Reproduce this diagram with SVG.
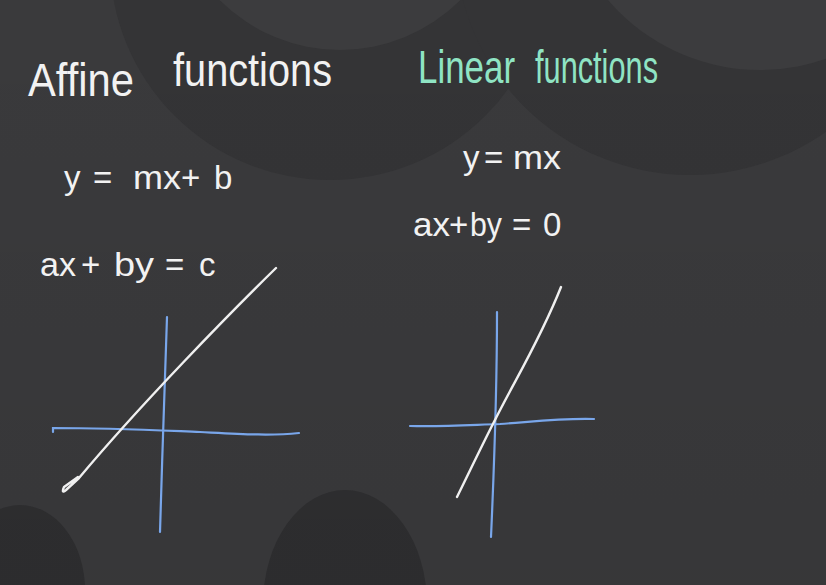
<svg xmlns="http://www.w3.org/2000/svg" width="826" height="585" viewBox="0 0 826 585">
  <defs>
    <style>
      .bg { fill: #3a3a3c; }
      .dark { fill: #343436; }
      .darker { fill: #2f2f31; }
      .light { fill: #3c3c3e; }
      .hand { font-family: "Liberation Sans", "DejaVu Sans", sans-serif; fill: #f2f2f2; }
      .green { fill: #8fe4c4; }
      .chalk { fill: none; stroke: #f0f0f0; stroke-width: 2.4; stroke-linecap: round; stroke-linejoin: round; }
      .axis { fill: none; stroke: #79a6ea; stroke-width: 2.2; stroke-linecap: round; }
    </style>
    <linearGradient id="fade" x1="0" y1="0" x2="0" y2="1">
      <stop offset="0" stop-color="#000" stop-opacity="0"/>
      <stop offset="1" stop-color="#000" stop-opacity="0.06"/>
    </linearGradient>
  </defs>

  <!-- board background -->
  <rect class="bg" x="0" y="0" width="826" height="585"/>
  <circle class="dark" cx="330" cy="-40" r="220"/>
  <circle class="dark" cx="690" cy="-60" r="235"/>
  <circle class="light" cx="340" cy="-120" r="170"/>
  <circle class="light" cx="760" cy="-130" r="200"/>
  <ellipse class="darker" cx="20" cy="590" rx="65" ry="85"/>
  <ellipse class="darker" cx="345" cy="605" rx="82" ry="115"/>
  <rect x="0" y="0" width="826" height="585" fill="url(#fade)"/>

  <!-- titles -->
  <g id="title-affine">
    <text class="hand" font-size="46"><tspan x="28" y="96" textLength="106" lengthAdjust="spacingAndGlyphs">Affine</tspan><tspan x="173" y="86" textLength="159" lengthAdjust="spacingAndGlyphs">functions</tspan></text>
  </g>
  <g id="title-linear">
    <text class="hand green" font-size="46"><tspan x="418" y="83" textLength="97" lengthAdjust="spacingAndGlyphs">Linear</tspan><tspan x="535" y="83" textLength="123" lengthAdjust="spacingAndGlyphs">functions</tspan></text>
  </g>

  <!-- affine equations -->
  <g id="eq-affine-1">
    <text class="hand" font-size="33" y="189"><tspan x="64">y</tspan><tspan x="93">=</tspan><tspan x="133" textLength="48" lengthAdjust="spacingAndGlyphs">mx</tspan><tspan x="181">+</tspan><tspan x="214">b</tspan></text>
  </g>
  <g id="eq-affine-2">
    <text class="hand" font-size="33" y="276"><tspan x="40" textLength="36" lengthAdjust="spacingAndGlyphs">ax</tspan><tspan x="81">+</tspan><tspan x="114" textLength="40" lengthAdjust="spacingAndGlyphs">by</tspan><tspan x="165">=</tspan><tspan x="199">c</tspan></text>
  </g>

  <!-- linear equations -->
  <g id="eq-linear-1">
    <text class="hand" font-size="33" y="169"><tspan x="463">y</tspan><tspan x="484">=</tspan><tspan x="513" textLength="48" lengthAdjust="spacingAndGlyphs">mx</tspan></text>
  </g>
  <g id="eq-linear-2">
    <text class="hand" font-size="33" y="236"><tspan x="413" textLength="37" lengthAdjust="spacingAndGlyphs">ax</tspan><tspan x="449">+</tspan><tspan x="470" textLength="32" lengthAdjust="spacingAndGlyphs">by</tspan><tspan x="512">=</tspan><tspan x="543">0</tspan></text>
  </g>

  <!-- affine graph -->
  <g id="graph-affine">
    <path class="axis" d="M167,317 C165,380 162,460 160,532"/>
    <path class="axis" d="M53,432 L53,428 C110,428 150,430 200,432 C240,434 270,436 299,433"/>
    <path class="chalk" d="M276,268 C230,313 140,405 79,478 L66,490 Q61,494 64,487 L78,477"/>
  </g>

  <!-- linear graph -->
  <g id="graph-linear">
    <path class="axis" d="M497,312 C497,390 494,470 491,537"/>
    <path class="axis" d="M410,426 C440,427 470,425 500,424 C530,422 560,418 594,419"/>
    <path class="chalk" d="M561,287 C540,340 515,380 496,418 C482,445 468,475 457,497"/>
  </g>
</svg>
